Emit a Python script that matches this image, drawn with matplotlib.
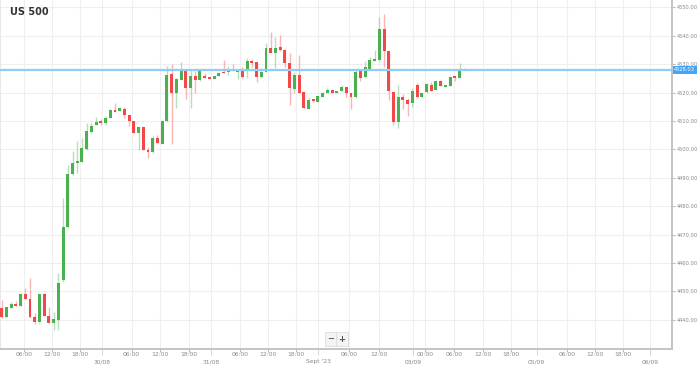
import matplotlib

matplotlib.use("Agg")

import matplotlib.pyplot as plt
import matplotlib.transforms as mtransforms

# hourly candles, US 500 (open, high, low, close)
opens = [
    4444.2, 4440.8, 4444.1, 4445.4, 4444.9, 4448.9, 4447.3, 4440.8, 4439.3, 4449.2,
    4441.3, 4438.9, 4439.9, 4454.0, 4472.7, 4491.2, 4495.3, 4495.6, 4500.0, 4506.2,
    4508.6, 4510.0, 4509.2, 4510.9, 4513.8, 4513.6, 4514.1, 4512.1, 4510.0, 4505.8,
    4508.0, 4499.8, 4498.9, 4504.1, 4501.9, 4510.1, 4526.4, 4519.7, 4524.6, 4528.1,
    4521.5, 4525.8, 4524.4, 4525.8, 4525.4, 4524.8, 4525.8, 4527.3, 4527.2, 4528.2,
    4527.3, 4527.9, 4527.9, 4531.2, 4530.7, 4525.4, 4527.3, 4535.6, 4533.8, 4535.9,
    4535.0, 4530.5, 4521.1, 4526.2, 4520.3, 4514.1, 4517.6, 4516.8, 4518.5, 4519.7,
    4520.9, 4519.9, 4520.6, 4521.8, 4519.9, 4518.3, 4527.5, 4525.4, 4528.4, 4531.2,
    4531.6, 4542.5, 4534.5, 4520.2, 4509.6, 4518.3, 4517.5, 4516.3, 4522.5, 4518.3,
    4520.2, 4522.5, 4521.0, 4524.2, 4522.1, 4522.2, 4525.7, 4525.1, 4528.4,
]
highs = [
    4446.9, 4444.6, 4446.2, 4446.6, 4449.3, 4451.3, 4454.6, 4442.4, 4449.0, 4449.3,
    4444.4, 4442.8, 4456.6, 4482.7, 4494.5, 4499.4, 4502.9, 4503.9, 4509.4, 4509.4,
    4511.5, 4510.7, 4511.7, 4514.1, 4516.4, 4514.7, 4515.0, 4512.2, 4510.1, 4508.1,
    4508.1, 4500.9, 4504.7, 4505.0, 4510.3, 4529.3, 4529.9, 4525.0, 4530.8, 4528.2,
    4527.9, 4527.7, 4527.7, 4526.8, 4525.5, 4525.9, 4527.3, 4531.3, 4529.3, 4530.0,
    4527.9, 4529.1, 4532.0, 4531.7, 4530.7, 4528.5, 4537.3, 4541.2, 4539.7, 4540.2,
    4535.2, 4533.8, 4527.3, 4533.2, 4520.3, 4518.3, 4517.6, 4518.8, 4520.3, 4521.5,
    4520.9, 4520.5, 4522.6, 4521.8, 4519.9, 4527.9, 4527.5, 4531.0, 4532.4, 4535.1,
    4546.5, 4547.6, 4534.5, 4520.2, 4522.8, 4519.5, 4518.1, 4521.6, 4523.3, 4519.8,
    4523.2, 4523.7, 4524.2, 4524.5, 4522.6, 4525.7, 4525.7, 4530.4, 4528.5,
]
lows = [
    4440.6, 4440.7, 4444.0, 4444.7, 4444.8, 4447.2, 4440.7, 4438.5, 4438.7, 4441.2,
    4438.7, 4436.4, 4436.4, 4453.4, 4472.2, 4491.0, 4491.8, 4495.5, 4499.8, 4505.6,
    4508.5, 4508.6, 4508.6, 4510.9, 4513.2, 4513.5, 4510.9, 4508.2, 4505.7, 4499.8,
    4499.7, 4496.8, 4498.8, 4502.3, 4501.9, 4509.7, 4501.9, 4514.4, 4524.6, 4517.6,
    4514.4, 4519.9, 4523.9, 4525.2, 4524.7, 4524.7, 4525.8, 4527.0, 4526.2, 4527.7,
    4524.8, 4525.3, 4525.0, 4529.1, 4523.8, 4525.3, 4527.3, 4534.0, 4528.5, 4534.7,
    4529.1, 4515.6, 4519.7, 4519.7, 4514.1, 4514.1, 4516.8, 4516.7, 4518.5, 4519.7,
    4519.8, 4519.8, 4520.6, 4518.3, 4514.1, 4518.1, 4524.2, 4525.1, 4528.0, 4531.2,
    4531.0, 4528.9, 4517.5, 4508.7, 4507.7, 4514.3, 4511.6, 4514.8, 4518.1, 4518.2,
    4519.8, 4520.6, 4521.0, 4522.2, 4522.1, 4522.2, 4524.2, 4525.0, 4528.0,
]
closes = [
    4440.8, 4444.4, 4445.4, 4444.8, 4448.9, 4447.3, 4440.8, 4439.3, 4448.9, 4441.3,
    4438.9, 4440.1, 4453.0, 4472.7, 4491.2, 4495.3, 4495.9, 4500.4, 4506.4, 4508.2,
    4509.7, 4509.2, 4511.2, 4513.8, 4513.2, 4514.4, 4512.1, 4510.1, 4505.8, 4508.0,
    4499.8, 4498.9, 4504.1, 4502.3, 4510.1, 4526.2, 4519.7, 4524.9, 4528.2, 4521.5,
    4525.8, 4524.6, 4527.6, 4525.2, 4524.8, 4525.8, 4527.0, 4527.0, 4527.7, 4527.7,
    4527.9, 4525.4, 4531.2, 4530.5, 4525.4, 4527.3, 4535.6, 4534.0, 4535.8, 4535.0,
    4530.5, 4521.5, 4526.2, 4519.9, 4514.4, 4517.4, 4517.0, 4518.8, 4519.7, 4520.9,
    4519.9, 4520.5, 4522.0, 4519.9, 4518.3, 4527.3, 4525.1, 4528.9, 4531.6, 4531.9,
    4542.5, 4534.5, 4520.6, 4509.6, 4518.3, 4517.5, 4516.1, 4520.6, 4518.3, 4519.8,
    4523.0, 4520.6, 4523.9, 4522.2, 4522.5, 4525.4, 4525.1, 4528.0, 4528.0,
]

last_price = 4527.95
last_label = "4528.03"

# x axis labels, positions in candle slots
hour_pos = [4.7, 10.6, 16.6, 27.5, 33.5, 39.7, 50.5, 56.4, 62.3, 73.5, 80.0,
            89.7, 95.9, 101.9, 107.9, 119.7, 125.7, 131.7]
hour_labels = ["06:00", "12:00", "18:00", "06:00", "12:00", "18:00", "06:00",
               "12:00", "18:00", "06:00", "12:00", "00:00", "06:00", "12:00",
               "18:00", "06:00", "12:00", "18:00"]
date_pos = [21.2, 44.3, 67.1, 87.2, 113.3, 137.3]
date_labels = ["30/08", "31/08", "Sept '23", "03/09", "05/09", "06/09"]

price_ticks = [4440, 4450, 4460, 4470, 4480, 4490, 4500, 4510, 4520, 4530, 4540, 4550]

green = "#4caf50"
red = "#f44848"

fig = plt.figure(figsize=(6.99, 3.66), dpi=100)
ax = fig.add_axes([0.0, 17 / 366, 671.5 / 699, 349 / 366])

for i, (o, h, l, c) in enumerate(zip(opens, highs, lows, closes)):
    col = green if c >= o else red
    ax.plot([i, i], [l, h], color=col, alpha=0.4, lw=1.0, solid_capstyle="butt", zorder=2)
    body = max(abs(c - o), 0.35)
    ax.bar(i, body, bottom=min(o, c), width=0.62, color=col, lw=0, zorder=3)

ax.axhline(last_price, color="#8ecdf5", lw=1.6, zorder=4)

ax.set_xlim(-0.36, 141.9)
ax.set_ylim(4429.7, 4552.6)

ax.set_xticks(hour_pos)
ax.set_xticklabels(hour_labels)
ax.set_xticks(date_pos, minor=True)
ax.set_xticklabels(date_labels, minor=True)
ax.tick_params(axis="x", which="major", length=2, color="#bbbbbb", pad=0.5,
               labelsize=4.3, labelcolor="#888888")
ax.tick_params(axis="x", which="minor", length=4, color="#cccccc", pad=3.5,
               labelsize=4.3, labelcolor="#888888")

ax.yaxis.tick_right()
ax.set_yticks(price_ticks)
ax.set_yticklabels([f"{p:.2f}" for p in price_ticks])
ax.tick_params(axis="y", length=2, color="#bbbbbb", pad=1.5, labelsize=3.7,
               labelcolor="#888888")

ax.grid(True, which="both", color="#efefef", lw=0.8, zorder=0)
ax.set_axisbelow(True)

ax.spines["top"].set_visible(False)
ax.spines["left"].set_color("#e8e8e8")
ax.spines["right"].set_color("#c4c4c4")
ax.spines["right"].set_linewidth(1.4)
ax.spines["bottom"].set_color("#c4c4c4")
ax.spines["bottom"].set_linewidth(1.4)

ax.text(10 / 671.5, 1 - 12 / 349, "US 500", transform=ax.transAxes, fontsize=7,
        fontweight="bold", color="#333333", va="center", ha="left")

# current price tag on the axis
trans = mtransforms.blended_transform_factory(ax.transAxes, ax.transData)
ax.text(1.004, last_price, last_label, transform=trans, fontsize=3.7, color="white",
        va="center", ha="left", clip_on=False,
        bbox=dict(boxstyle="square,pad=0.3", fc="#42a5f5", ec="none"))

# zoom buttons
for xpix, sym in [(331, "\u2212"), (342, "+")]:
    ax.text(xpix / 671.5, 10 / 349, sym, transform=ax.transAxes, fontsize=6,
            fontweight="bold", color="#555555", ha="center", va="center",
            bbox=dict(boxstyle="square,pad=0.25", fc="#f4f4f4", ec="#dddddd", lw=0.6))

fig.savefig("out.png", dpi=100)
